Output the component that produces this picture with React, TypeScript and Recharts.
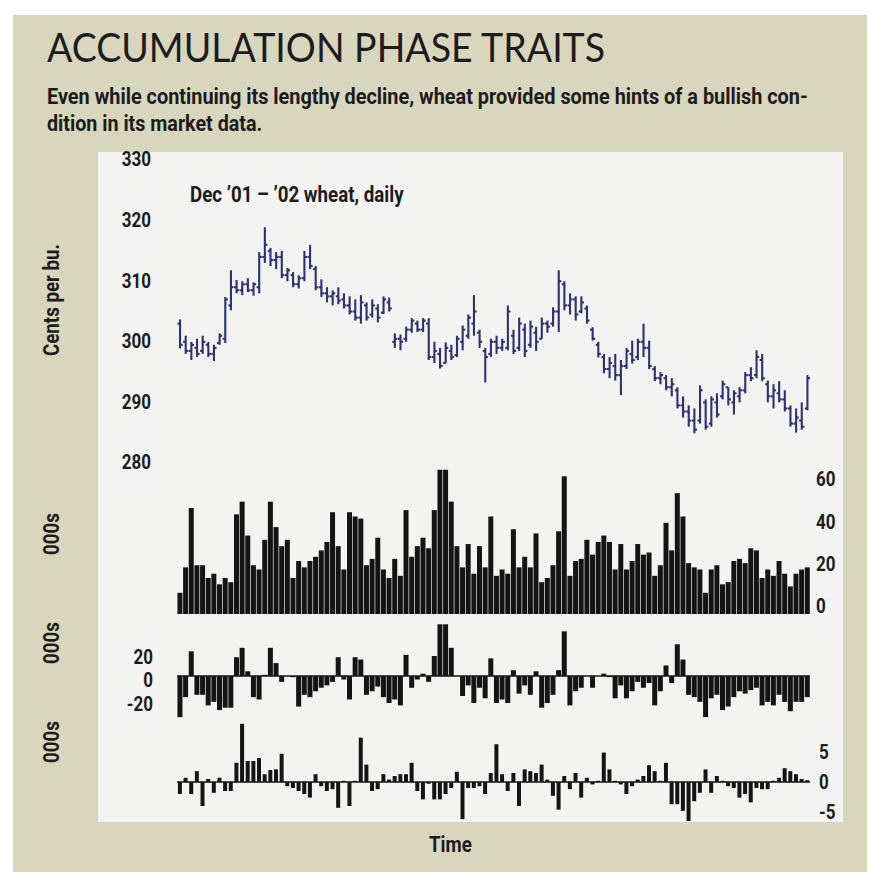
import React from "react";
import { BarChart, Bar, XAxis, YAxis, ReferenceLine } from "recharts";

// Dec '01 - '02 wheat, daily (cents per bushel)
const highs = [
  303.7, 301, 300, 300.5, 301, 300, 299.5, 301.4, 307.4, 311.8, 310.2, 310, 310.5, 309.8, 314.8, 318.9,
  315.5, 314.8, 315, 312.2, 311.5, 311, 315, 316, 312.5, 310.3, 309, 308.5, 309, 308, 307.5, 307,
  307.7, 306.5, 307, 306.2, 307.5, 307.3, 301.4, 301.2, 302.5, 303.9, 303.5, 303.9, 303.9, 300, 299,
  299.9, 299.5, 301, 302.7, 304.5, 307.7, 302, 299, 300.5, 301, 300.5, 306, 302, 304, 303, 303.5,
  302.5, 304, 303.5, 305.7, 311.8, 310, 308, 307.5, 307.5, 306, 302.4, 300, 298, 297.5, 298, 297,
  299, 300.2, 300.5, 303, 300.2, 296, 295, 294.5, 294, 292.5, 291, 289.5, 289, 292.8, 290.5, 291,
  291.5, 293.6, 292.5, 292, 292.5, 295, 295.8, 298.6, 298, 293.6, 293, 293.5, 292, 289.5, 289, 290, 294.5,
];
const lows = [
  298.9, 298, 297, 297.5, 298, 297.5, 296.8, 299.5, 299.8, 305.2, 308, 307.7, 308.2, 307.6, 308, 313,
  312.5, 312, 310.5, 310, 309, 308.8, 310, 312, 308.5, 307.4, 306.5, 306, 306.2, 305.5, 304.5, 303.5,
  303, 303.5, 304, 303.2, 304.6, 305, 299, 298.6, 300, 301.5, 301.6, 301.6, 297, 296.5, 295.6,
  296.5, 297, 297.5, 298.6, 300.5, 301, 299, 293.3, 297.5, 298, 298.5, 298.6, 298, 298.5, 297.5, 299,
  298.5, 300.5, 301.5, 302.5, 301.6, 305.2, 304.5, 303.5, 304.7, 303, 300.2, 297.4, 294.8, 294, 293.6, 291.2,
  295.5, 296.4, 297, 297.5, 295.5, 293.5, 293, 292, 291, 289, 287.5, 286, 284.9, 286.5, 285.5, 286,
  287.5, 290.5, 289.5, 288, 290, 291.5, 293.5, 294, 293.5, 290, 289, 290, 288.5, 286, 285, 285.5, 288.7,
];
const opens = [
  303, 300, 298.5, 299, 298.5, 299.5, 298, 299.8, 300.5, 306, 309, 308.5, 309.5, 308.5, 309, 314,
  315, 313.5, 314, 311, 311, 309.5, 310.5, 314, 312, 309, 308, 307.5, 307.5, 307, 306, 305,
  304, 306, 304.5, 305.5, 304.8, 306.5, 300, 300.5, 300.5, 302, 303, 302, 303, 297.5, 298,
  296.5, 298.5, 297.8, 300, 301, 303, 301.5, 298.5, 298, 300, 299, 299, 301, 299, 302, 299.5,
  301.5, 300.5, 303, 303, 305, 309.5, 306, 307, 305, 305.5, 302, 299.5, 297.5, 295.5, 296, 294.5,
  296, 298, 297.5, 300, 299, 295.5, 294, 294, 292.5, 292, 289.5, 288.5, 287, 287, 290, 286.5,
  290, 291, 292.5, 290, 291, 292, 294.5, 294.5, 297, 293, 291, 291.5, 290.5, 289, 286.5, 287, 289,
];
const closes = [
  299.5, 298.5, 299.5, 298, 300, 298, 299, 301, 307, 309, 308.5, 309.5, 308.5, 309.5, 314, 316,
  313.5, 314, 311, 311.8, 309.5, 310.5, 314, 312.5, 309, 308, 307.5, 308, 306.8, 306, 305, 304,
  306.5, 304, 306, 304, 307, 305.5, 300.5, 300, 302, 303.5, 302, 303.5, 297.5, 298.5, 296,
  299, 297.5, 300.5, 302, 304, 305, 300, 297.5, 300, 299, 300, 305, 298.5, 303, 298.5, 302.5,
  300, 303, 302.5, 305, 310, 306, 307, 304.5, 306.5, 303.5, 300.5, 298, 295.5, 296.5, 294.5, 296,
  298.5, 297, 300, 299, 296, 294, 294.5, 292.5, 293, 289.5, 288.5, 287, 285.5, 292, 286, 290.5,
  288, 293, 290.5, 291.5, 292, 294.5, 294, 297.5, 294, 291, 292, 290.5, 289, 286.5, 287.5, 286, 294,
];

// volume, 000s
const volume = [
  10, 22, 50, 23, 23, 17, 19, 14, 17, 15, 47, 53, 37, 23, 21, 35, 53, 41, 32, 35, 17, 25, 22, 25, 27,
  30, 34, 48, 32, 21, 48, 46, 45, 23, 26, 36, 21, 17, 26, 18, 49, 27, 32, 36, 31, 49, 68, 68, 53, 32,
  22, 33, 19, 32, 22, 46, 18, 21, 19, 40, 22, 27, 22, 38, 15, 17, 23, 39, 65, 18, 25, 26, 35, 28, 34,
  37, 34, 21, 33, 21, 25, 33, 28, 29, 18, 23, 43, 30, 57, 46, 24, 22, 21, 10, 21, 23, 14, 15, 25, 26,
  24, 31, 30, 17, 21, 18, 25, 19, 13, 19, 21, 22,
];

// open interest change, 000s
const oiChange = [
  -35, -18, 21, -16, -16, -25, -22, -29, -27, -27, 16, 24, 4, -18, -20, 1, 24, 11, -5, 0, -1, -26, -16,
  -18, -13, -10, -8, -5, 16, -3, -20, 16, 14, -16, -13, -9, -18, -23, -20, -25, 18, -10, -3, 2, -5, 17,
  44, 44, 24, 0, -17, -8, -23, -10, -19, 15, -23, -20, -23, 5, -15, -8, -16, 4, -27, -23, -16, 5, 38,
  -25, -13, -10, 0, -10, 0, 2, -1, -19, -8, -19, -13, -5, -10, -6, -25, -13, 9, -6, 27, 14, -16, -18,
  -22, -35, -19, -16, -29, -26, -18, -13, -15, -12, -10, -25, -22, -25, -16, -22, -30, -22, -22, -18,
];

// lower panel change, 000s
const lowerChange = [
  -2, 0.7, -2, 1.8, -4, 0.5, -1.8, 0.7, -1.5, -1.5, 3.2, 9.7, 3.5, 3.5, 4, 1.3, 2, 2.1, 4.7, -0.7,
  -1, -1.5, -2, -2.6, 1.3, -0.7, -1.5, -1.2, -4.3, 0.2, -4, 0.2, 7.4, 2.9, -1.5, -1.2, 1.3, 0.4, 1,
  1.3, 1.3, 3.2, -1.5, -2.9, -0.3, -2.9, -2.9, -2, -1, 1.7, -6.2, -1, -1, -0.7, -2, 1.5, 6.3, 1.3,
  -1.5, 1.5, -4, 2.1, 1.8, 1.5, 2.9, 0.4, -2.3, -4.6, 1, -1.2, 1.5, -2.6, 0.7, -0.4, 0.2, 4.9, 2.1,
  0.2, -0.4, -2, -0.7, 0.4, 1, 2.8, 1.8, 0.2, 3.2, -3.7, -3.7, -4.8, -6.5, -3.2, -1.8, 2.1, -1.8, 1,
  0.2, -0.7, -1, -2.6, -2, -3.4, -1, -1.2, -1.2, 0.2, 0.7, 2.3, 1.8, 1.3, 0.5, 0.3,
];

const priceTicks = [280, 290, 300, 310, 320, 330];
const volumeTicks = [0, 20, 40, 60];
const oiTicks = [-20, 0, 20];
const lowerTicks = [-5, 0, 5];

const data = highs.map((h, i) => ({
  day: i + 1,
  high: h,
  low: lows[i],
  open: opens[i],
  close: closes[i],
  volume: volume[i],
  oi: oiChange[i],
  lower: lowerChange[i],
}));

const FONT = "Roboto, 'Liberation Sans', sans-serif";
const INK = "#1c1c1c";
const NARROW = 0.85;

const makeTick = (anchor: "start" | "end", dy: number) => (props: any) => {
  const { x, y, payload } = props;
  return (
    <text
      transform={`translate(${x},${y + dy}) scale(${NARROW},1)`}
      textAnchor={anchor}
      dominantBaseline="central"
      fontFamily={FONT}
      fontSize={20}
      fontWeight={700}
      fill={INK}
    >
      {payload.value}
    </text>
  );
};

const OhlcBar = (props: any) => {
  const { x, y, width, height, payload } = props;
  if (x == null || y == null || !payload) return null;
  const top = Math.min(y, y + height);
  const h = Math.abs(height);
  const cx = x + width / 2;
  const span = payload.high - payload.low || 1;
  const yAt = (v: number) => top + ((payload.high - v) / span) * h;
  return (
    <g stroke="#2f3170" strokeWidth={2.1}>
      <line x1={cx} x2={cx} y1={top} y2={top + h} />
      <line x1={cx - 2.6} x2={cx} y1={yAt(payload.open)} y2={yAt(payload.open)} />
      <line x1={cx} x2={cx + 2.6} y1={yAt(payload.close)} y2={yAt(payload.close)} />
    </g>
  );
};

const label: React.CSSProperties = {
  position: "absolute",
  fontFamily: FONT,
  fontWeight: 700,
  fontSize: 22,
  color: INK,
  lineHeight: 1,
  whiteSpace: "nowrap",
  transformOrigin: "left center",
  transform: `scaleX(${NARROW})`,
};

const rotated = (cx: number, cy: number): React.CSSProperties => ({
  ...label,
  left: cx,
  top: cy,
  transformOrigin: "center center",
  transform: `translate(-50%, -50%) rotate(-90deg) scaleX(${NARROW})`,
});

const box = (top: number, height: number): React.CSSProperties => ({
  position: "absolute",
  left: 0,
  top,
  width: 878,
  height,
});

export default function App() {
  return (
    <div style={{ position: "absolute", left: 0, top: 0, width: 878, height: 872, background: "#ffffff", overflow: "hidden" }}>
      <div style={{ position: "absolute", left: 13, top: 15, width: 854, height: 857, background: "#d8d6bc" }} />
      <div style={{ position: "absolute", left: 98, top: 152, width: 745, height: 670, background: "#f3f3f1" }} />

      <svg width={878} height={150} style={{ position: "absolute", left: 0, top: 0 }}>
        <text
          x={47}
          y={62}
          textLength={558}
          lengthAdjust="spacingAndGlyphs"
          fontFamily="Lato, 'Open Sans', sans-serif"
          fontWeight={400}
          fontSize={40}
          fill={INK}
        >
          ACCUMULATION PHASE TRAITS
        </text>
        <g transform="translate(47,0) scale(0.8,1)" fontFamily={FONT} fontWeight={700} fontSize={22} fill={INK}>
          <text x={0} y={104} textLength={951} lengthAdjust="spacingAndGlyphs">
            Even while continuing its lengthy decline, wheat provided some hints of a bullish con-
          </text>
          <text x={0} y={131} textLength={269} lengthAdjust="spacingAndGlyphs">
            dition in its market data.
          </text>
        </g>
      </svg>

      <div style={{ ...label, left: 190, top: 184 }}>Dec ’01 – ’02 wheat, daily</div>
      <div style={rotated(52, 300)}>Cents per bu.</div>
      <div style={rotated(52, 534)}>000s</div>
      <div style={rotated(52, 643)}>000s</div>
      <div style={rotated(52, 742)}>000s</div>
      <div style={{ ...label, left: 429, top: 834 }}>Time</div>

      <div style={box(140, 343)}>
        <BarChart width={878} height={343} data={data} margin={{ top: 20, bottom: 20, left: 0, right: 68 }} barCategoryGap="10%">
          <XAxis dataKey="day" hide />
          <YAxis
            width={177}
            domain={[280, 330]}
            ticks={priceTicks}
            allowDataOverflow
            axisLine={false}
            tickLine={false}
            tickSize={0}
            tickMargin={26}
            tick={makeTick("end", 0)}
            interval={0}
          />
          <Bar dataKey={(d: any) => [d.low, d.high]} shape={OhlcBar} isAnimationActive={false} />
        </BarChart>
      </div>

      <div style={box(455, 170)}>
        <BarChart width={878} height={170} data={data} margin={{ top: 10.6, bottom: 11, left: 177, right: 0 }} barCategoryGap="8%">
          <XAxis dataKey="day" hide />
          <YAxis
            orientation="right"
            width={68}
            domain={[0, 70]}
            ticks={volumeTicks}
            axisLine={false}
            tickLine={false}
            tickSize={0}
            tickMargin={6}
            tick={makeTick("start", -7)}
            interval={0}
          />
          <Bar dataKey="volume" fill="#141414" isAnimationActive={false} />
        </BarChart>
      </div>

      <div style={box(612, 121)}>
        <BarChart width={878} height={121} data={data} margin={{ top: 9.95, bottom: 10, left: 0, right: 68 }} barCategoryGap="8%">
          <XAxis dataKey="day" hide />
          <YAxis
            width={177}
            domain={[-40, 46]}
            ticks={oiTicks}
            axisLine={false}
            tickLine={false}
            tickSize={0}
            tickMargin={24}
            tick={makeTick("end", 5)}
            interval={0}
          />
          <ReferenceLine y={0} stroke="#141414" strokeWidth={1.5} />
          <Bar dataKey="oi" fill="#141414" isAnimationActive={false} />
        </BarChart>
      </div>

      <div style={box(712, 126)}>
        <BarChart width={878} height={126} data={data} margin={{ top: 10, bottom: 8, left: 177, right: 0 }} barCategoryGap="16%">
          <XAxis dataKey="day" hide />
          <YAxis
            orientation="right"
            width={68}
            domain={[-8, 10]}
            ticks={lowerTicks}
            axisLine={false}
            tickLine={false}
            tickSize={0}
            tickMargin={9}
            tick={makeTick("start", 1)}
            interval={0}
          />
          <ReferenceLine y={0} stroke="#141414" strokeWidth={1.5} />
          <Bar dataKey="lower" fill="#141414" isAnimationActive={false} />
        </BarChart>
      </div>
    </div>
  );
}
